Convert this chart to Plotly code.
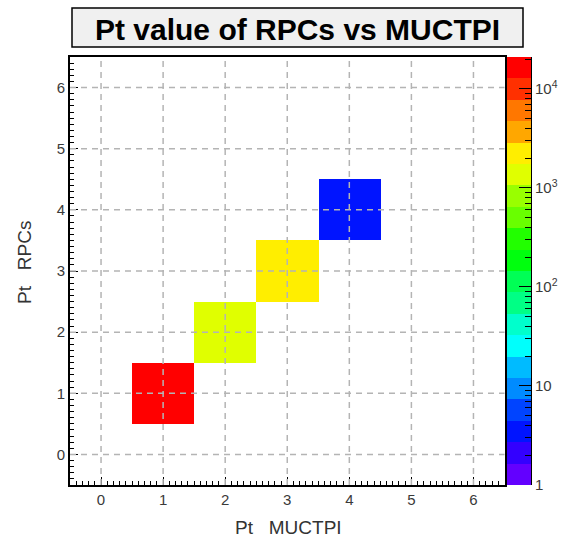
import math
import colorsys
import plotly.graph_objects as go

# ---- data ----
pt_muctpi = [1, 2, 3, 4]
pt_rpc = [1, 2, 3, 4]
counts = [21000, 1400, 2300, 4]
bins = [0, 1, 2, 3, 4, 5, 6]
tick_vals = [0, 1, 2, 3, 4, 5, 6]
cb_major = [1, 10, 100, 1000, 10000]
cb_major_text = ["1", "10", "10<sup>2</sup>", "10<sup>3</sup>", "10<sup>4</sup>"]
n_levels = 20

# ---- ROOT "pretty" palette, 20 contours ----
def root_color(i):
    idx = int((i + 0.99) * 50 / n_levels)
    hue = 280 - (idx + 1) * (280 / 50)
    r, g, b = colorsys.hls_to_rgb(hue / 360.0, 0.5, 1.0)
    return "rgb(%d,%d,%d)" % (round(r * 255), round(g * 255), round(b * 255))

colorscale = []
for i in range(n_levels):
    c = root_color(i)
    colorscale.append([i / n_levels, c])
    colorscale.append([(i + 1) / n_levels, c])

zmin = 0.0
zmax = math.log10(max(counts))

# z matrix of log10 counts
z = [[None for _ in bins] for _ in bins]
for xv, yv, c in zip(pt_muctpi, pt_rpc, counts):
    z[bins.index(yv)][bins.index(xv)] = math.log10(c)

fig = go.Figure()
fig.add_trace(go.Heatmap(
    x=bins, y=bins, z=z, colorscale=colorscale, zmin=zmin, zmax=zmax,
    showscale=False, hoverongaps=False, xaxis="x", yaxis="y",
))

# palette as a separate heatmap
edges = [zmax * i / n_levels for i in range(n_levels + 1)]
mids = [[(edges[i] + edges[i + 1]) / 2] for i in range(n_levels)]
fig.add_trace(go.Heatmap(
    x=[-0.5, 0.5], y=edges, z=mids, colorscale=colorscale, zmin=zmin, zmax=zmax,
    showscale=False, xaxis="x2", yaxis="y2",
))

cb_minor = []
for n in range(0, 5):
    for k in range(2, 10):
        v = k * 10 ** n
        if math.log10(v) <= zmax:
            cb_minor.append(math.log10(v))

font_fam = "Liberation Sans, Arial, sans-serif"
tick_font = dict(family=font_fam, size=15, color="#3a3a3a")

W, H = 564, 539
ml, mr, mt, mb = 70, 30, 57, 54
pw = W - ml - mr
main_right = (504.5 - ml) / pw
pal_left = (507 - ml) / pw
pal_right = (531 - ml) / pw

axis_common = dict(
    showline=True, linecolor="black", linewidth=2, mirror=True,
    ticks="inside", ticklen=8, tickcolor="black", tickwidth=1,
    showgrid=False, zeroline=False, tickfont=tick_font,
    tickmode="array", tickvals=tick_vals,
    minor=dict(ticks="inside", ticklen=4, dtick=0.1, tick0=0, tickcolor="black", showgrid=False),
    automargin=False,
)

fig.update_layout(
    width=W, height=H,
    margin=dict(l=ml, r=mr, t=mt, b=mb),
    paper_bgcolor="white", plot_bgcolor="white",
    showlegend=False,
    xaxis=dict(domain=[0, main_right], range=[-0.5, 6.5], anchor="y", **axis_common),
    yaxis=dict(domain=[0, 1], range=[-0.5, 6.5], anchor="x", **axis_common),
    xaxis2=dict(domain=[pal_left, pal_right], range=[-0.5, 0.5], anchor="y2",
                visible=False, fixedrange=True),
    yaxis2=dict(domain=[0, 1], range=[zmin, zmax], anchor="x2", side="right",
                showline=True, linecolor="black", linewidth=1,
                ticks="inside", ticklen=12, tickcolor="black", tickwidth=1,
                tickmode="array", tickvals=[math.log10(v) for v in cb_major],
                ticktext=cb_major_text, tickfont=tick_font,
                minor=dict(ticks="inside", ticklen=6, tickmode="array",
                           tickvals=cb_minor, tickcolor="black", showgrid=False),
                showgrid=False, zeroline=False, automargin=False),
)

# dashed grid drawn above the cells (as ROOT does)
for v in tick_vals:
    fig.add_shape(type="line", xref="x", yref="y domain", x0=v, x1=v, y0=0, y1=1,
                  line=dict(color="#b4b4b4", width=1.5, dash="6px,5px"), layer="above")
    fig.add_shape(type="line", xref="x domain", yref="y", x0=0, x1=1, y0=v, y1=v,
                  line=dict(color="#b4b4b4", width=1.5, dash="6px,5px"), layer="above")

# title box
fig.add_shape(type="rect", xref="paper", yref="paper",
              x0=(72 - ml) / pw, x1=(523 - ml) / pw,
              y0=(H - mb - 47) / (H - mt - mb), y1=(H - mb - 8) / (H - mt - mb),
              line=dict(color="black", width=1.5), fillcolor="#f0f0f0", layer="above")
fig.add_annotation(text="<b>Pt value of RPCs vs MUCTPI</b>", xref="paper", yref="paper",
                   x=(297 - ml) / pw, y=(H - mb - 29) / (H - mt - mb),
                   showarrow=False, xanchor="center", yanchor="middle",
                   font=dict(family=font_fam, size=30, color="black"))

# axis titles
fig.add_annotation(text="Pt   MUCTPI", xref="paper", yref="paper",
                   x=(288 - ml) / pw, y=(H - mb - 527) / (H - mt - mb),
                   showarrow=False, xanchor="center", yanchor="middle",
                   font=dict(family=font_fam, size=19, color="#333333"))
fig.add_annotation(text="Pt   RPCs", xref="paper", yref="paper",
                   x=(24 - ml) / pw, y=(H - mb - 263) / (H - mt - mb),
                   showarrow=False, xanchor="center", yanchor="middle", textangle=-90,
                   font=dict(family=font_fam, size=19, color="#333333"))

fig.write_html("out.html")
